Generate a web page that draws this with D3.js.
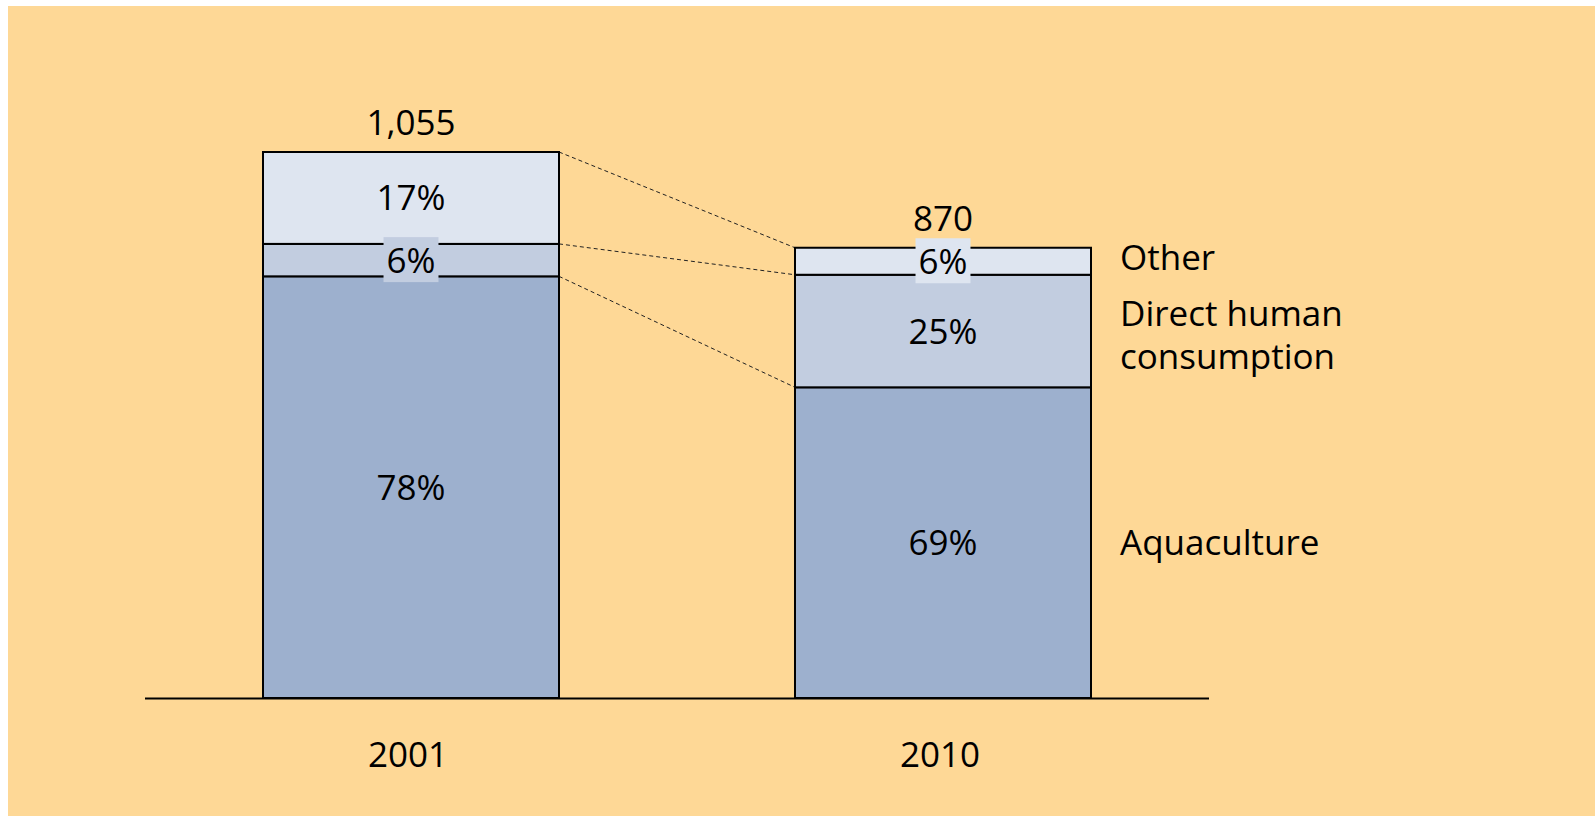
<!DOCTYPE html>
<html>
<head>
<meta charset="utf-8">
<script src="https://cdn.jsdelivr.net/npm/d3@7"></script>
<style>
  body { margin: 0; background: #fff; }
  text { font-family: "Open Sans", "Noto Sans", sans-serif; font-size: 35px; fill: #000; }
</style>
</head>
<body>
<div id="root"></div>
<script>
// data
const years = ["2001", "2010"];
const totals = [1055, 870];
const segments = ["Aquaculture", "Direct human consumption", "Other"];
const aquaculture = [78, 69];
const directHuman = [6, 25];
const other = [17, 6];
const legendLines = [["Aquaculture"], ["Direct human", "consumption"], ["Other"]];

var width = 1595, height = 816;

var svg = d3.select("#root").append("svg")
  .attr("width", width)
  .attr("height", height);

svg.append("rect")
  .attr("x", 8).attr("y", 6)
  .attr("width", width - 8).attr("height", height - 6)
  .attr("fill", "#FED896");

var x = d3.scaleBand()
  .domain(years)
  .range([145, 1209])
  .paddingInner(0.4436)
  .paddingOuter(0.2218);

var y = d3.scaleLinear()
  .domain([0, 1055])
  .range([698, 152]);

var z = d3.scaleOrdinal()
  .domain(segments)
  .range(["#9DB0CE", "#C2CDE0", "#DEE5F0"]);

// table of shares, scaled so each bar tops out at its total
var rows = years.map(function(yr, i) {
  var s = aquaculture[i] + directHuman[i] + other[i];
  return {
    year: yr,
    total: totals[i],
    "Aquaculture": aquaculture[i] / s * totals[i],
    "Direct human consumption": directHuman[i] / s * totals[i],
    "Other": other[i] / s * totals[i],
    pct: { "Aquaculture": aquaculture[i], "Direct human consumption": directHuman[i], "Other": other[i] }
  };
});

var stacked = d3.stack().keys(segments)(rows);

// dashed connectors between the bars
var a = rows[0].year, b = rows[1].year;
var connect = svg.append("g");
var levels = stacked.slice(1).map(function(s) { return [s[0][0], s[1][0]]; });
var topS = stacked[stacked.length - 1];
levels.push([topS[0][1], topS[1][1]]);
levels.forEach(function(lev) {
  connect.append("line")
    .attr("x1", x(a) + x.bandwidth()).attr("y1", y(lev[0]))
    .attr("x2", x(b)).attr("y2", y(lev[1]))
    .attr("stroke", "#222").attr("stroke-width", 1)
    .attr("stroke-dasharray", "4,3");
});

// bars
svg.append("g").selectAll("g")
  .data(stacked)
  .enter().append("g")
  .style("fill", function(d) { return z(d.key); })
  .selectAll("rect")
  .data(function(d) { return d; })
  .enter().append("rect")
  .attr("x", function(d) { return x(d.data.year); })
  .attr("y", function(d) { return y(d[1]); })
  .attr("height", function(d) { return y(d[0]) - y(d[1]); })
  .attr("width", x.bandwidth())
  .attr("stroke", "#000")
  .attr("stroke-width", 2);

// percent labels
stacked.forEach(function(s) {
  s.forEach(function(d) {
    var cx = x(d.data.year) + x.bandwidth() / 2;
    var mid = (y(d[0]) + y(d[1])) / 2;
    var h = y(d[0]) - y(d[1]);
    var g = svg.append("g");
    var t = g.append("text")
      .attr("x", cx).attr("y", mid + 12.5)
      .attr("text-anchor", "middle")
      .text(d.data.pct[s.key] + "%");
    if (h < 40) {
      var bb = t.node().getBBox();
      g.insert("rect", "text")
        .attr("x", cx - bb.width / 2 - 3)
        .attr("y", mid - 23)
        .attr("width", bb.width + 6)
        .attr("height", 45)
        .attr("fill", z(s.key));
    }
  });
});

// totals
svg.append("g").selectAll("text")
  .data(rows)
  .enter().append("text")
  .attr("x", function(d) { return x(d.year) + x.bandwidth() / 2; })
  .attr("y", function(d) { return y(d.total) - 17; })
  .attr("text-anchor", "middle")
  .text(function(d) { return d3.format(",")(d.total); });

// baseline
svg.append("line")
  .attr("x1", x.range()[0]).attr("x2", x.range()[1])
  .attr("y1", y(0) + 0.5).attr("y2", y(0) + 0.5)
  .attr("stroke", "#000").attr("stroke-width", 2);

// year labels
svg.append("g").selectAll("text")
  .data(years)
  .enter().append("text")
  .attr("x", function(d) { return x(d) + x.bandwidth() / 2 - 3; })
  .attr("y", y(0) + 69)
  .attr("text-anchor", "middle")
  .text(function(d) { return d; });

// segment names next to the last bar
var last = x(b) + x.bandwidth() + 29;
stacked.forEach(function(s, k) {
  var d = s[1];
  var mid = (y(d[0]) + y(d[1])) / 2;
  var lines = legendLines[k];
  var t = svg.append("text")
    .attr("x", last)
    .attr("y", mid + 12 - (lines.length - 1) * 21 + (lines.length > 1 ? 4 : 0) - (k == 2 ? 3 : 0));
  lines.forEach(function(l, j) {
    t.append("tspan")
      .attr("x", last)
      .attr("dy", j == 0 ? 0 : 42.6)
      .text(l);
  });
});
</script>
</body>
</html>
